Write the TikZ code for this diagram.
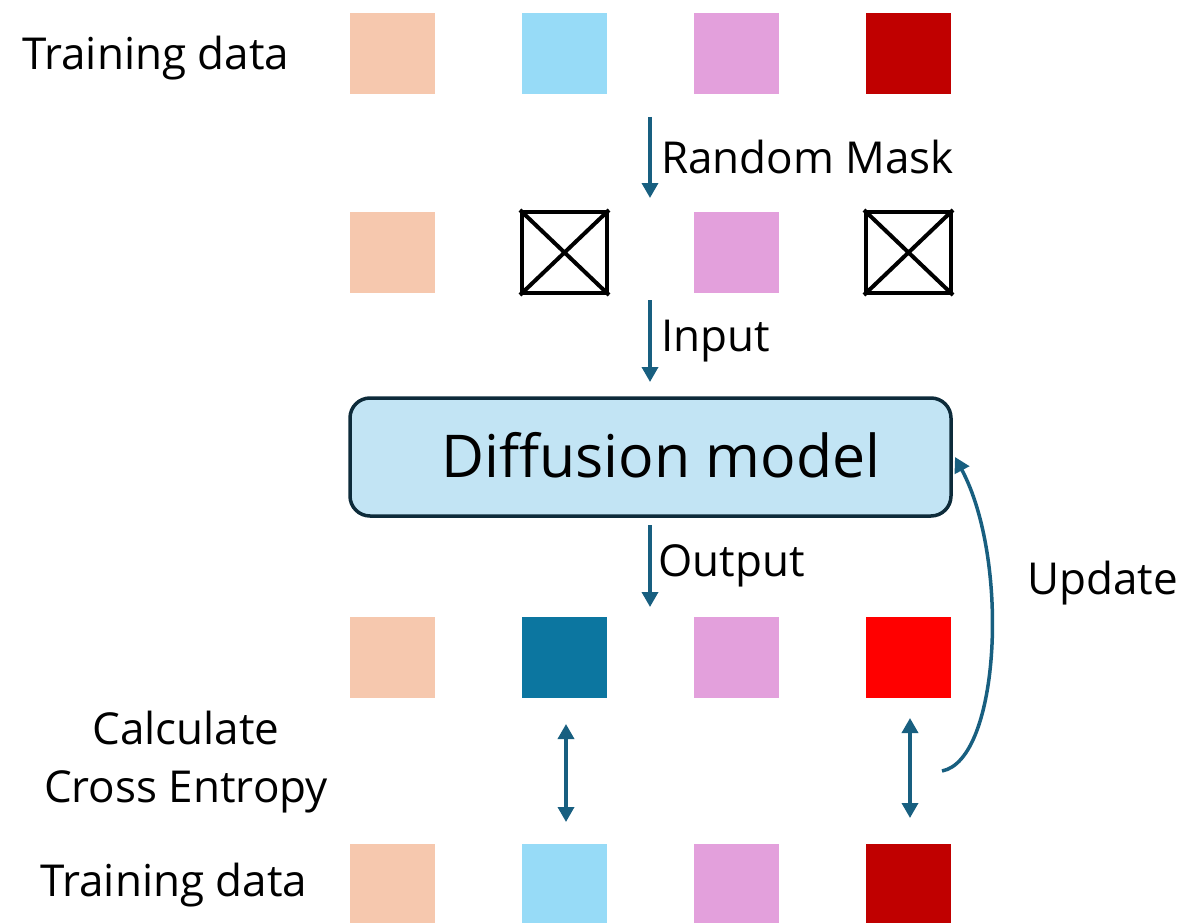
\documentclass[tikz,border=0pt]{standalone}
\usepackage{fontspec}
\setmainfont{Open Sans}
\usetikzlibrary{arrows.meta}
\definecolor{peach}{HTML}{F6C8AE}
\definecolor{sky}{HTML}{97DBF7}
\definecolor{orchid}{HTML}{E3A0DC}
\definecolor{crimson}{HTML}{C00000}
\definecolor{teal}{HTML}{0C76A0}
\definecolor{pure}{HTML}{FF0000}
\definecolor{flow}{HTML}{185F80}
\definecolor{modelfill}{HTML}{C2E4F4}
\definecolor{modeledge}{HTML}{0D2B3A}
\tikzset{
  tile/.style={minimum width=85pt, minimum height=81pt, inner sep=0pt, draw=none},
  masked/.style={minimum width=85pt, minimum height=81pt, inner sep=0pt, draw=black, line width=4pt},
  lbl/.style={font=\fontsize{44}{58}\selectfont, inner sep=0pt},
  flowarrow/.style={draw=flow, line width=3.5pt, -{Triangle[length=15pt,width=16pt]}},
  bothway/.style={draw=flow, line width=3.5pt, {Triangle[length=15pt,width=16pt]}-{Triangle[length=15pt,width=16pt]}},
}
\begin{document}
\begin{tikzpicture}[x=1pt,y=-1pt]
\useasboundingbox (0,0) rectangle (1183,923);
% first row: training data
\node[lbl, anchor=west] (t1) at (22,58) {Training data};
\node[tile, fill=peach]   (a1) at (392.5,53.5) {};
\node[tile, fill=sky]     (a2) at (564.5,53.5) {};
\node[tile, fill=orchid]  (a3) at (736.5,53.5) {};
\node[tile, fill=crimson] (a4) at (908.5,53.5) {};
% second row: masked tokens
\node[tile, fill=peach]   (b1) at (392.5,252.5) {};
\node[masked]             (b2) at (564.5,252.5) {};
\draw[line width=4pt] (b2.north west) -- (b2.south east) (b2.north east) -- (b2.south west);
\node[tile, fill=orchid]  (b3) at (736.5,252.5) {};
\node[masked]             (b4) at (908.5,252.5) {};
\draw[line width=4pt] (b4.north west) -- (b4.south east) (b4.north east) -- (b4.south west);
% model
\node[draw=modeledge, fill=modelfill, line width=3.5pt, rounded corners=20pt,
      minimum width=601pt, minimum height=118pt, inner sep=0pt] (m) at (650.5,457) {};
\node[font=\fontsize{59}{66}\selectfont, inner sep=0pt] (mt) at (661,455) {Diffusion model};
% third row: predictions
\node[tile, fill=peach]   (c1) at (392.5,657) {};
\node[tile, fill=teal]    (c2) at (564.5,657) {};
\node[tile, fill=orchid]  (c3) at (736.5,657) {};
\node[tile, fill=pure]    (c4) at (908.5,657) {};
% fourth row: training data
\node[lbl, anchor=west] (t2) at (40,885) {Training data};
\node[tile, fill=peach]   (d1) at (392.5,884) {};
\node[tile, fill=sky]     (d2) at (564.5,884) {};
\node[tile, fill=orchid]  (d3) at (736.5,884) {};
\node[tile, fill=crimson] (d4) at (908.5,884) {};
% vertical flow
\coordinate (r0) at (650,117); \coordinate (r1) at (650,198);
\coordinate (i0) at (650,300); \coordinate (i1) at (650,382);
\coordinate (o0) at (650,525); \coordinate (o1) at (650,607);
\draw[flowarrow] (r0) -- (r1);
\draw[flowarrow] (i0) -- (i1);
\draw[flowarrow] (o0) -- (o1);
\node[lbl, anchor=west] (lr) at (661,157) {Random Mask};
\node[lbl, anchor=west] (li) at (661,341) {Input};
\node[lbl, anchor=west] (lo) at (658,566) {Output};
% comparisons
\coordinate (e0) at (566,724); \coordinate (e1) at (566,822);
\coordinate (f0) at (910,718); \coordinate (f1) at (910,818);
\draw[bothway] (e0) -- (e1);
\draw[bothway] (f0) -- (f1);
\node[lbl, align=center] (ce) at (186,762) {Calculate\\Cross Entropy};
% update loop
\coordinate (u0) at (942,771);
\coordinate (u1) at (955,457);
\draw[flowarrow] (u0) .. controls (1000,760) and (1010,560) .. (u1);
\node[lbl, anchor=west] (lu) at (1027,583) {Update};
\end{tikzpicture}
\end{document}
